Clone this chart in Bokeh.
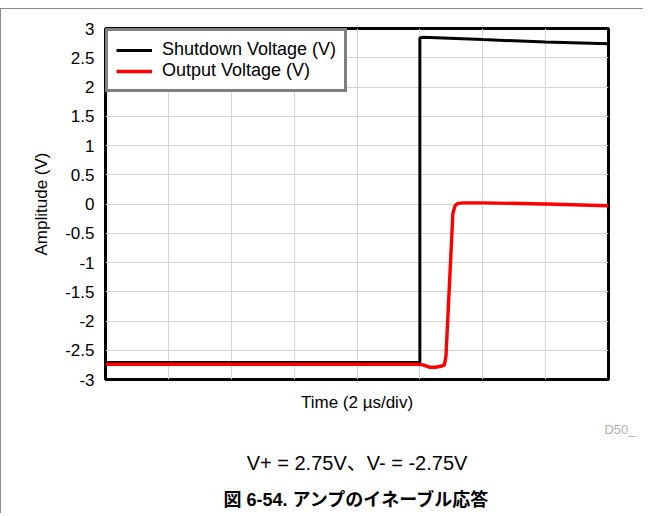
from bokeh.plotting import figure
from bokeh.models import FixedTicker, Range1d, Title
from bokeh.embed import file_html
from bokeh.resources import INLINE

# ---- data (time in µs, voltage in V) ----
time_shutdown = [0.0, 10.0, 10.0, 10.1, 12.0, 14.0, 16.0]
volt_shutdown = [-2.71, -2.71, 2.84, 2.85, 2.81, 2.77, 2.74]

time_output = [0.0, 5.0, 9.9, 10.1, 10.3, 10.5, 10.7, 10.78, 10.83, 11.05, 11.12, 11.2, 11.4, 12.0, 14.0, 16.0]
volt_output = [-2.74, -2.74, -2.74, -2.75, -2.79, -2.79, -2.77, -2.75, -2.6, -0.16, -0.03, 0.01, 0.02, 0.02, 0.0, -0.03]

x_grid_ticks = [0, 2, 4, 6, 8, 10, 12, 14, 16]
y_ticks = [-3, -2.5, -2, -1.5, -1, -0.5, 0, 0.5, 1, 1.5, 2, 2.5, 3]
y_tick_labels = ["-3", "-2.5", "-2", "-1.5", "-1", "-0.5", "0", "0.5", "1", "1.5", "2", "2.5", "3"]

series_names = ["Shutdown Voltage (V)", "Output Voltage (V)"]
x_label = "Time (2 µs/div)"
y_label = "Amplitude (V)"
cond_text = "V+ = 2.75V、V- = -2.75V"
caption_text = "図 6-54. アンプのイネーブル応答"
code_text = "D50_"

FONT = "Liberation Sans"

p = figure(width=643, height=505, output_backend="svg", toolbar_location=None,
           x_range=Range1d(0, 16), y_range=Range1d(-3, 3),
           min_border_left=104, min_border_right=36, min_border_top=19, min_border_bottom=133,
           styles={"margin-top": "8px", "border-top": "1px solid #8a8a8a",
                   "border-left": "1px solid #8a8a8a"})

p.outline_line_color = "black"
p.outline_line_width = 3
p.outline_line_alpha = 1

p.line(time_shutdown, volt_shutdown, line_color="black", line_width=3, legend_label=series_names[0])
p.line(time_output, volt_output, line_color="#ff0000", line_width=3.4, legend_label=series_names[1])

# grid
p.xaxis.ticker = FixedTicker(ticks=[])
p.xgrid[0].ticker = FixedTicker(ticks=x_grid_ticks)
p.yaxis.ticker = FixedTicker(ticks=y_ticks)
p.xgrid.grid_line_color = "#d4d4d4"
p.ygrid.grid_line_color = "#d4d4d4"
p.xgrid.grid_line_width = 1
p.ygrid.grid_line_width = 1

# y axis
p.yaxis.major_label_overrides = {t: s for t, s in zip(y_ticks, y_tick_labels)}
p.yaxis.major_tick_line_color = None
p.yaxis.minor_tick_line_color = None
p.yaxis.axis_line_color = None
p.yaxis.major_label_text_font = FONT
p.yaxis.major_label_text_font_size = "17px"
p.yaxis.major_label_text_color = "black"
p.yaxis.major_label_standoff = 5
p.yaxis.axis_label = y_label
p.yaxis.axis_label_text_font = FONT
p.yaxis.axis_label_text_font_size = "17px"
p.yaxis.axis_label_text_font_style = "normal"
p.yaxis.axis_label_text_color = "black"
p.yaxis.axis_label_standoff = 11

# x axis (no tick labels)
p.xaxis.major_tick_line_color = None
p.xaxis.minor_tick_line_color = None
p.xaxis.axis_line_color = None
p.xaxis.major_label_standoff = 0
p.xaxis.axis_label = x_label
p.xaxis.axis_label_text_font = FONT
p.xaxis.axis_label_text_font_size = "17px"
p.xaxis.axis_label_text_font_style = "normal"
p.xaxis.axis_label_text_color = "black"
p.xaxis.axis_label_standoff = 13

# legend
lg = p.legend[0]
lg.location = "top_left"
lg.margin = 0
lg.border_line_color = "black"
lg.border_line_width = 3
lg.background_fill_alpha = 1
lg.label_text_font = FONT
lg.label_text_font_size = "18px"
lg.label_text_color = "black"
lg.glyph_width = 36
lg.glyph_height = 20
lg.label_height = 20
lg.spacing = 0
lg.padding = 8
lg.label_standoff = 10

# texts below the chart
p.add_layout(Title(text=code_text, align="right", offset=-27, standoff=10,
                   text_font=FONT, text_font_size="13px", text_font_style="normal",
                   text_color="#b0b0b0"), "below")
p.add_layout(Title(text=cond_text, align="center", standoff=17,
                   text_font=FONT + ", Noto Sans CJK JP", text_font_size="20px",
                   text_font_style="normal", text_color="black"), "below")
p.add_layout(Title(text=caption_text, align="center", standoff=10,
                   text_font=FONT + ", Noto Sans CJK JP", text_font_size="18px",
                   text_font_style="bold", text_color="black"), "below")

open("out.html", "w").write(file_html(p, INLINE))
